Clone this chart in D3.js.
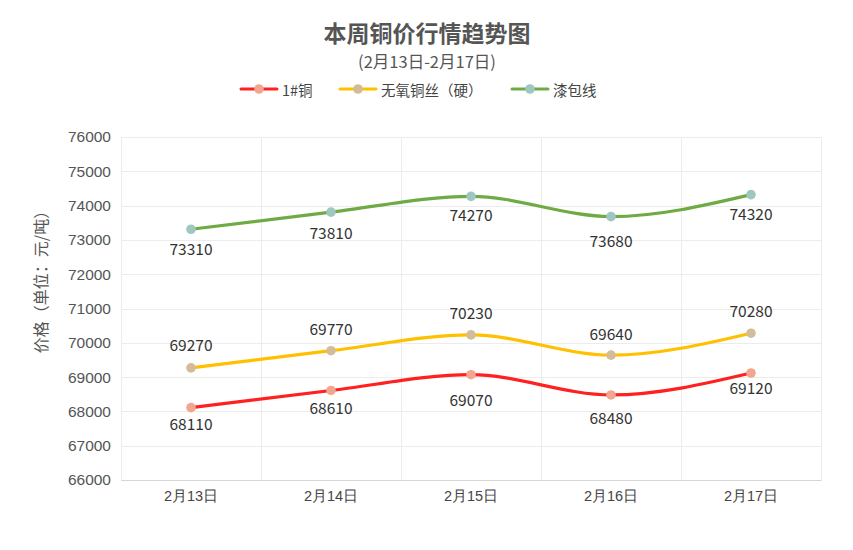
<!DOCTYPE html>
<html><head><meta charset="utf-8">
<script src="https://cdn.jsdelivr.net/npm/d3@7"></script>
<style>
html,body{margin:0;padding:0;background:#fff;}
svg{display:block;font-family:"Microsoft YaHei","Noto Sans CJK SC",sans-serif;}
</style></head>
<body><svg id="chart" width="853" height="550"></svg>
<script>
const categories = ["2月13日","2月14日","2月15日","2月16日","2月17日"];
const seriesNames = ["1#铜","无氧铜丝（硬）","漆包线"];
const copper = [68110, 68610, 69070, 68480, 69120];
const oxygenFreeWire = [69270, 69770, 70230, 69640, 70280];
const enamelledWire = [73310, 73810, 74270, 73680, 74320];
const yTicks = [66000,67000,68000,69000,70000,71000,72000,73000,74000,75000,76000];
const titleText = "本周铜价行情趋势图";
const subtitleText = "(2月13日-2月17日)";
const yAxisTitle = "价格（单位：元/吨）";

// styling (not data)
const styles = [
  {line:"#ff2020", point:"#f3a68f", labelDy:[15,16.7,24,22,13.7]},
  {line:"#ffc000", point:"#d3bd99", labelDy:[-23.4,-22.6,-22.6,-22.6,-22.7]},
  {line:"#6fab45", point:"#9fc7c1", labelDy:[18.7,20,17.7,23.3,18.3]}
];
const seriesValues = [copper, oxygenFreeWire, enamelledWire];

const svg = d3.select("#chart");
const pLeft = 121, pRight = 821, pTop = 137, pBottom = 480;

const x = d3.scaleBand().domain(categories).range([pLeft, pRight]);
const y = d3.scaleLinear().domain([66000, 76000]).range([pBottom, pTop]);
const cx = d => x(d) + x.bandwidth()/2;

// title + subtitle
svg.append("text").attr("x", 427).attr("y", 32).attr("text-anchor","middle")
  .attr("dominant-baseline","central").attr("font-size",23).attr("font-weight","bold")
  .attr("fill","#555").text(titleText);
svg.append("text").attr("x", 427).attr("y", 60.5).attr("text-anchor","middle")
  .attr("dominant-baseline","central").attr("font-size",16.5)
  .attr("fill","#555").text(subtitleText);

// legend
const legendX = [241, 340, 512];
seriesNames.forEach((n,i)=>{
  const g = svg.append("g").attr("transform",`translate(${legendX[i]},89)`);
  g.append("line").attr("x1",0).attr("x2",36).attr("y1",0).attr("y2",0)
    .attr("stroke",styles[i].line).attr("stroke-width",3).attr("stroke-linecap","round");
  g.append("circle").attr("cx",18).attr("cy",0).attr("r",4.8).attr("fill",styles[i].point);
  g.append("text").attr("x",41).attr("y",0).attr("dominant-baseline","central")
    .attr("font-size",14.5).attr("fill","#444").text(n);
});

// grid
const grid = svg.append("g");
grid.selectAll("line.h").data(yTicks).join("line")
  .attr("x1",pLeft).attr("x2",pRight).attr("y1",d=>Math.round(y(d))+0.5).attr("y2",d=>Math.round(y(d))+0.5)
  .attr("stroke","#ececec").attr("stroke-width",1);
const vb = categories.map(c=>x(c)).concat([pRight]);
grid.selectAll("line.v").data(vb).join("line")
  .attr("x1",d=>Math.round(d)+0.5).attr("x2",d=>Math.round(d)+0.5).attr("y1",pTop).attr("y2",pBottom)
  .attr("stroke","#ececec").attr("stroke-width",1);

// y axis
const yAxis = d3.axisLeft(y).tickValues(yTicks).tickSize(0).tickPadding(10).tickFormat(d=>d);
const ya = svg.append("g").attr("transform",`translate(${pLeft},0)`).call(yAxis);
ya.select(".domain").remove();
ya.selectAll("text").attr("font-size",15.5).attr("fill","#555").attr("font-family",null);

// x axis
const xAxis = d3.axisBottom(x).tickSize(0).tickPadding(11);
const xa = svg.append("g").attr("transform",`translate(0,${pBottom})`).call(xAxis);
xa.select(".domain").attr("stroke","#d6d6d6");
xa.selectAll("text").attr("font-size",14.5).attr("fill","#444").attr("font-family",null);

// y title
svg.append("text").attr("transform","translate(40,278) rotate(-90)")
  .attr("text-anchor","middle").attr("dominant-baseline","central")
  .attr("font-size",16).attr("fill","#555").text(yAxisTitle);

// lines
const line = d3.line().x((d,i)=>cx(categories[i])).y(d=>y(d)).curve(d3.curveMonotoneX);
seriesValues.forEach((vals,si)=>{
  const st = styles[si];
  svg.append("path").attr("d", line(vals)).attr("fill","none")
    .attr("stroke", st.line).attr("stroke-width",3.2).attr("stroke-linecap","round");
  svg.selectAll(null).data(vals).join("circle")
    .attr("cx",(d,i)=>cx(categories[i])).attr("cy",d=>y(d)).attr("r",4.8).attr("fill",st.point);
  svg.selectAll(null).data(vals).join("text")
    .attr("x",(d,i)=>cx(categories[i])).attr("y",(d,i)=>y(d)+st.labelDy[i])
    .attr("text-anchor","middle").attr("dominant-baseline","central")
    .attr("font-size",15.5).attr("fill","#333").text(d=>d);
});
</script></body></html>
